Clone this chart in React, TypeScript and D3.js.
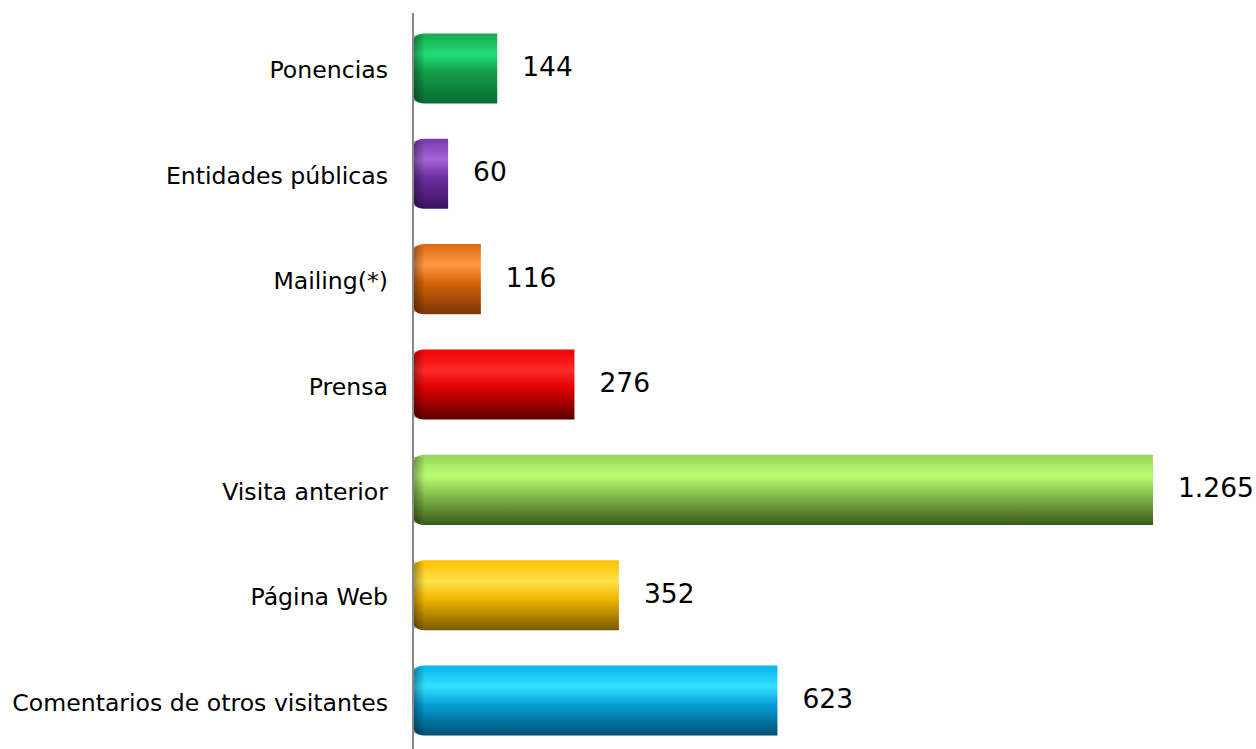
import React from "react";
import * as d3 from "d3";

const categories = [
  "Ponencias",
  "Entidades públicas",
  "Mailing(*)",
  "Prensa",
  "Visita anterior",
  "Página Web",
  "Comentarios de otros visitantes",
];
const values = [144, 60, 116, 276, 1265, 352, 623];
const valueLabels = ["144", "60", "116", "276", "1.265", "352", "623"];
// [top, highlight, mid, bottom]
const barColors = [
  ["#17a84c", "#22dd77", "#13a048", "#0a6a32"],
  ["#7a3aac", "#a266d6", "#6e2fa0", "#3a1260"],
  ["#e06a10", "#ff9a44", "#d8620a", "#7a3606"],
  ["#f00000", "#ff2a2a", "#e00000", "#5a0000"],
  ["#96d458", "#b9ff72", "#88c24c", "#3c5a1e"],
  ["#ffc000", "#ffe24a", "#f2b600", "#7a5a00"],
  ["#08b2ee", "#32e2ff", "#06a0d8", "#004f70"],
];

const W = 1256;
const H = 749;
const x0 = 413;

export default function App() {
  const x = d3.scaleLinear().domain([0, 1265]).range([x0, 1153]);
  const y = d3
    .scaleBand<string>()
    .domain(categories)
    .range([15.5, 753.5])
    .paddingInner(0.335)
    .paddingOuter(0.17);
  const bh = y.bandwidth();
  const r = 11;

  return (
    <svg
      width={W}
      height={H}
      style={{ position: "absolute", left: 0, top: 0, background: "#fff" }}
      fontFamily="'DejaVu Sans', Verdana, sans-serif"
    >
      <defs>
        {barColors.map((c, i) => (
          <linearGradient key={i} id={`g${i}`} x1="0" y1="0" x2="0" y2="1">
            <stop offset="0" stopColor={c[0]} />
            <stop offset="0.3" stopColor={c[1]} />
            <stop offset="0.55" stopColor={c[2]} />
            <stop offset="1" stopColor={c[3]} />
          </linearGradient>
        ))}
        <linearGradient id="leftShade" x1="0" y1="0" x2="1" y2="0">
          <stop offset="0" stopColor="#000" stopOpacity="0.35" />
          <stop offset="1" stopColor="#000" stopOpacity="0" />
        </linearGradient>
      </defs>
      {categories.map((cat, i) => {
        const yy = y(cat)!;
        const xe = x(values[i]);
        const path = `M${xe},${yy} L${x0 + r},${yy} Q${x0},${yy} ${x0},${yy + r} L${x0},${yy + bh - r} Q${x0},${yy + bh} ${x0 + r},${yy + bh} L${xe},${yy + bh} Z`;
        return (
          <g key={cat}>
            <path d={path} fill={`url(#g${i})`} />
            <rect x={x0} y={yy + 2} width={12} height={bh - 4} fill="url(#leftShade)" />
            <text
              x={388}
              y={yy + bh / 2 + 2}
              textAnchor="end"
              dominantBaseline="central"
              fontSize={23.6}
              fill="#000"
            >
              {cat}
            </text>
            <text
              x={xe + 25}
              y={yy + bh / 2 - 2}
              dominantBaseline="central"
              fontSize={26.5}
              fill="#000"
            >
              {valueLabels[i]}
            </text>
          </g>
        );
      })}
      <line x1={x0} x2={x0} y1={13} y2={H} stroke="#888" strokeWidth={2} />
    </svg>
  );
}
